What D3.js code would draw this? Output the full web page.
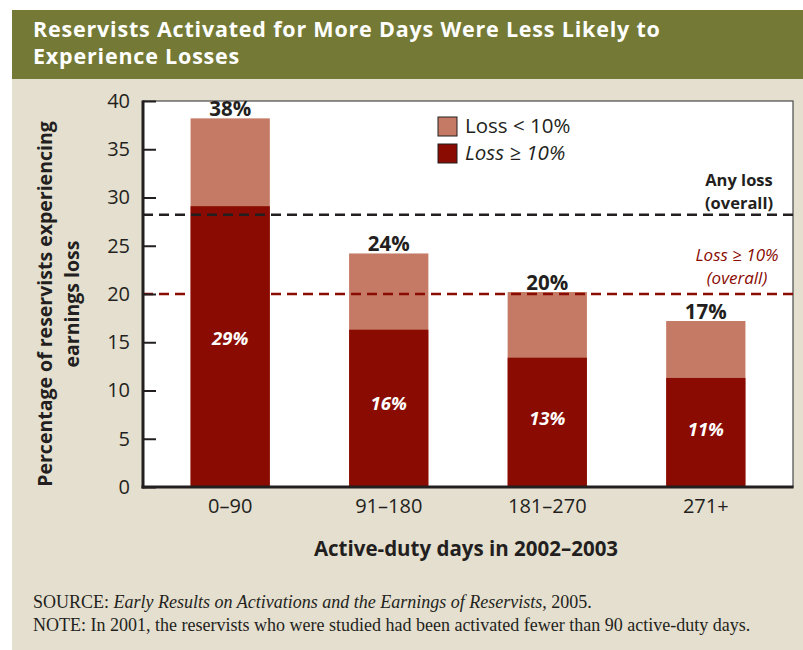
<!DOCTYPE html>
<html>
<head>
<meta charset="utf-8">
<script src="https://cdn.jsdelivr.net/npm/d3@7"></script>
<style>
  body { margin: 0; background: #ffffff; }
  svg { display: block; }
</style>
</head>
<body>
<svg id="chart" width="803" height="650"></svg>
<script>
// data
var categories = ["0\u201390", "91\u2013180", "181\u2013270", "271+"];
var lossBig = [29.1, 16.3, 13.4, 11.3];      // loss >= 10%
var lossTotal = [38.2, 24.2, 20.2, 17.2];    // any loss
var totalLabels = ["38%", "24%", "20%", "17%"];
var bigLabels = ["29%", "16%", "13%", "11%"];
var overallAny = 28.2;
var overallBig = 20;
var yTicks = [0, 5, 10, 15, 20, 25, 30, 35, 40];

var svg = d3.select("#chart");
var sans = "'Open Sans', 'Noto Sans', sans-serif";
var ink = "#231f20";
var darkRed = "#8a0b02";
var lightRed = "#c47a64";

// plot box
var margin_l = 143, margin_r = 10, margin_t = 101, margin_b = 163;
var W = 803, H = 650;

// backgrounds
svg.append("rect").attr("x", 12).attr("y", 10).attr("width", W - 12).attr("height", H - 10)
  .attr("fill", "#e5dfcf");
svg.append("rect").attr("x", 12).attr("y", 10).attr("width", W - 12).attr("height", 69)
  .attr("fill", "#747a35");

// title
var titleLines = ["Reservists Activated for More Days Were Less Likely to", "Experience Losses"];
svg.selectAll("text.title")
  .data(titleLines)
  .enter().append("text")
  .attr("class", "title")
  .attr("x", 33).attr("y", function(d, i) { return 37 + i * 27; })
  .style("font-family", sans).style("font-size", "21.5px").style("font-weight", "bold")
  .style("letter-spacing", "0.8px")
  .attr("fill", "#ffffff")
  .text(function(d) { return d; });

// scales
var xScale = d3.scaleBand()
  .domain(categories)
  .range([margin_l, W - margin_r])
  .paddingInner(0.5)
  .paddingOuter(0.3);

var yScale = d3.scaleLinear()
  .domain([0, 40])
  .range([H - margin_b, margin_t]);

// plot area
svg.append("rect")
  .attr("x", margin_l).attr("y", margin_t)
  .attr("width", W - margin_r - margin_l).attr("height", H - margin_b - margin_t)
  .attr("fill", "#ffffff").attr("stroke", "#4a4a4a").attr("stroke-width", 1.2);

// bars
svg.selectAll("rect.total")
  .data(categories)
  .enter().append("rect")
  .attr("class", "total")
  .attr("x", function(d) { return xScale(d); })
  .attr("width", xScale.bandwidth())
  .attr("y", function(d, i) { return yScale(lossTotal[i]); })
  .attr("height", function(d, i) { return yScale(0) - yScale(lossTotal[i]); })
  .attr("fill", lightRed);

svg.selectAll("rect.big")
  .data(categories)
  .enter().append("rect")
  .attr("class", "big")
  .attr("x", function(d) { return xScale(d); })
  .attr("width", xScale.bandwidth())
  .attr("y", function(d, i) { return yScale(lossBig[i]); })
  .attr("height", function(d, i) { return yScale(0) - yScale(lossBig[i]); })
  .attr("fill", darkRed);

// overall lines
svg.append("line")
  .attr("x1", margin_l).attr("x2", W - margin_r)
  .attr("y1", yScale(overallAny)).attr("y2", yScale(overallAny))
  .attr("stroke", ink).attr("stroke-width", 2.5).attr("stroke-dasharray", "10,6");
svg.append("line")
  .attr("x1", margin_l).attr("x2", W - margin_r)
  .attr("y1", yScale(overallBig)).attr("y2", yScale(overallBig))
  .attr("stroke", darkRed).attr("stroke-width", 2.5).attr("stroke-dasharray", "10,6");

// value labels
svg.selectAll("text.total")
  .data(categories)
  .enter().append("text")
  .attr("class", "total")
  .attr("x", function(d) { return xScale(d) + xScale.bandwidth() / 2; })
  .attr("y", function(d, i) { return yScale(lossTotal[i]) - 2; })
  .attr("text-anchor", "middle")
  .style("font-family", sans).style("font-size", "20.5px").style("font-weight", "bold")
  .attr("fill", ink)
  .text(function(d, i) { return totalLabels[i]; });

svg.selectAll("text.big")
  .data(categories)
  .enter().append("text")
  .attr("class", "big")
  .attr("x", function(d) { return xScale(d) + xScale.bandwidth() / 2; })
  .attr("y", function(d, i) { return yScale(lossBig[i] * 0.53); })
  .attr("dy", "0.35em")
  .attr("text-anchor", "middle")
  .style("font-family", sans).style("font-size", "18.5px").style("font-weight", "bold")
  .style("font-style", "italic")
  .attr("fill", "#ffffff")
  .text(function(d, i) { return bigLabels[i]; });

// y axis
var yAxis = svg.append("g")
  .attr("transform", "translate(" + margin_l + ",0)")
  .call(d3.axisLeft(yScale).tickValues(yTicks).tickSize(-13).tickPadding(13));
yAxis.select(".domain").remove();
yAxis.selectAll(".tick line").attr("stroke", ink).attr("stroke-width", 2);
yAxis.selectAll(".tick text")
  .style("font-family", sans).style("font-size", "20px").attr("fill", ink);

// x axis
var xAxis = svg.append("g")
  .attr("transform", "translate(0," + (H - margin_b) + ")")
  .call(d3.axisBottom(xScale).tickSize(0).tickPadding(12));
xAxis.select(".domain").remove();
xAxis.selectAll(".tick text")
  .style("font-family", sans).style("font-size", "20px").attr("fill", ink);

// thick axis lines
svg.append("line")
  .attr("x1", margin_l).attr("x2", margin_l)
  .attr("y1", margin_t - 0.5).attr("y2", H - margin_b + 1.5)
  .attr("stroke", ink).attr("stroke-width", 3);
svg.append("line")
  .attr("x1", margin_l - 1.5).attr("x2", W - margin_r + 0.5)
  .attr("y1", H - margin_b).attr("y2", H - margin_b)
  .attr("stroke", ink).attr("stroke-width", 3);

// axis titles
var yTitle = ["Percentage of reservists experiencing", "earnings loss"];
svg.selectAll("text.ytitle")
  .data(yTitle)
  .enter().append("text")
  .attr("class", "ytitle")
  .attr("transform", function(d, i) { return "translate(" + (52 + i * 27) + ",304) rotate(-90)"; })
  .attr("text-anchor", "middle")
  .style("font-family", sans).style("font-size", "19.5px").style("font-weight", "bold")
  .attr("fill", ink)
  .text(function(d) { return d; });

svg.append("text")
  .attr("x", 466).attr("y", 556)
  .attr("text-anchor", "middle")
  .style("font-family", sans).style("font-size", "20.5px").style("font-weight", "bold")
  .attr("fill", ink)
  .text("Active-duty days in 2002\u20132003");

// legend
var legendItems = [
  { label: "Loss < 10%", color: lightRed, italic: false },
  { label: "Loss \u2265 10%", color: darkRed, italic: true }
];
var legend = svg.selectAll("g.legend")
  .data(legendItems)
  .enter().append("g")
  .attr("class", "legend")
  .attr("transform", function(d, i) { return "translate(438," + (117 + i * 27) + ")"; });
legend.append("rect")
  .attr("width", 19).attr("height", 19)
  .attr("fill", function(d) { return d.color; })
  .attr("stroke", ink).attr("stroke-width", 1);
legend.append("text")
  .attr("x", 27).attr("y", 16)
  .style("font-family", sans).style("font-size", "20.5px")
  .style("font-style", function(d) { return d.italic ? "italic" : "normal"; })
  .attr("fill", ink)
  .text(function(d) { return d.label; });

// overall line labels
var anyLabel = svg.append("text")
  .attr("text-anchor", "middle")
  .style("font-family", sans).style("font-size", "16.5px").style("font-weight", "bold")
  .attr("fill", ink);
anyLabel.append("tspan").attr("x", 739).attr("y", 186).text("Any loss");
anyLabel.append("tspan").attr("x", 739).attr("y", 208.5).text("(overall)");

var bigLabel = svg.append("text")
  .attr("text-anchor", "middle")
  .style("font-family", sans).style("font-size", "17px").style("font-style", "italic")
  .attr("fill", darkRed);
bigLabel.append("tspan").attr("x", 737).attr("y", 261).text("Loss \u2265 10%");
bigLabel.append("tspan").attr("x", 737).attr("y", 284).text("(overall)");

// source and note
var serif = "'Liberation Serif', 'Times New Roman', serif";
var src = svg.append("text")
  .attr("x", 33).attr("y", 608)
  .style("font-family", serif).style("font-size", "18px").attr("fill", ink);
src.append("tspan").text("SOURCE: ");
src.append("tspan").style("font-style", "italic")
  .text("Early Results on Activations and the Earnings of Reservists");
src.append("tspan").text(", 2005.");
svg.append("text")
  .attr("x", 33).attr("y", 631)
  .style("font-family", serif).style("font-size", "18px").attr("fill", ink)
  .text("NOTE: In 2001, the reservists who were studied had been activated fewer than 90 active-duty days.");
</script>
</body>
</html>
